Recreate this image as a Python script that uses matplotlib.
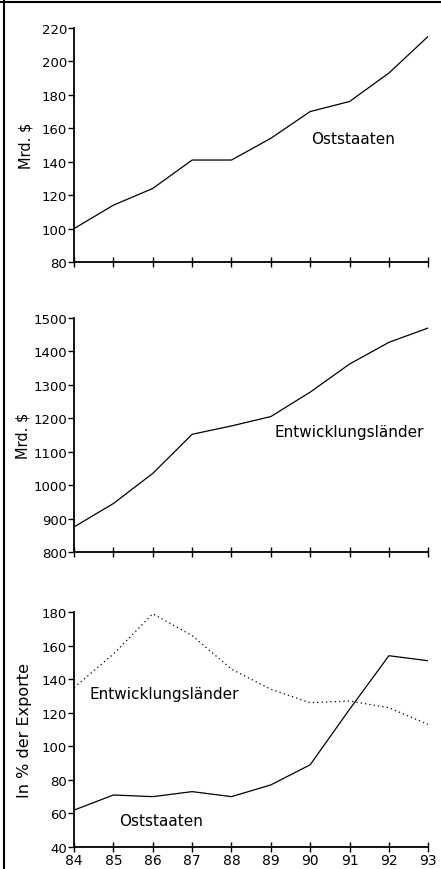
import matplotlib
matplotlib.use('Agg')
import matplotlib.pyplot as plt
from matplotlib.lines import Line2D

#data
years = [84, 85, 86, 87, 88, 89, 90, 91, 92, 93]
year_labels = ['84', '85', '86', '87', '88', '89', '90', '91', '92', '93']
ost_mrd = [100, 114, 124, 141, 141, 154, 170, 176, 193, 215]
entw_mrd = [875, 945, 1035, 1152, 1177, 1205, 1278, 1362, 1427, 1470]
ost_pct = [62, 71, 70, 73, 70, 77, 89, 122, 154, 151]
entw_pct = [135, 155, 179, 166, 146, 134, 126, 127, 123, 113]

plt.rcParams['font.family'] = ['DejaVu Sans']
plt.rcParams['font.size'] = 9.5

fig = plt.figure(figsize=(4.41, 8.70), dpi=100)

#axes boxes in figure fractions
ax1 = fig.add_axes([0.168, 0.6977, 0.803, 0.269])
ax2 = fig.add_axes([0.168, 0.3644, 0.803, 0.269])
ax3 = fig.add_axes([0.168, 0.0253, 0.803, 0.270])

def style(ax):
    for s in ['top', 'right']:
        ax.spines[s].set_visible(False)
    for s in ['left', 'bottom']:
        ax.spines[s].set_linewidth(1.3)
    ax.tick_params(axis='y', direction='out', length=4, width=1.0, pad=1, labelsize=9.5)
    ax.tick_params(axis='x', direction='inout', length=7, width=1.0, pad=1, labelsize=10)
    ax.set_xlim(years[0], years[-1])
    ax.set_xticks(years)

#top panel
style(ax1)
ax1.plot(years, ost_mrd, color='black', lw=0.9)
ax1.set_ylim(80, 220)
ax1.set_yticks(range(80, 221, 20))
ax1.set_xticklabels([])
ax1.set_ylabel('Mrd. $', fontsize=10.5)
ax1.yaxis.set_label_coords(-0.116, 0.5)
ax1.text(91.1, 154, 'Oststaaten', ha='center', va='center', fontsize=11)

#middle panel
style(ax2)
ax2.plot(years, entw_mrd, color='black', lw=0.9)
ax2.set_ylim(800, 1500)
ax2.set_yticks(range(800, 1501, 100))
ax2.set_xticklabels([])
ax2.set_ylabel('Mrd. $', fontsize=10.5)
ax2.yaxis.set_label_coords(-0.122, 0.5)
ax2.text(91.0, 1159, 'Entwicklungsländer', ha='center', va='center', fontsize=11)

#bottom panel
style(ax3)
ax3.plot(years, ost_pct, color='black', lw=0.9)
ax3.plot(years, entw_pct, color='black', lw=0.9, linestyle=(0, (1, 2.5)))
ax3.set_ylim(40, 180)
ax3.set_yticks(range(40, 181, 20))
ax3.set_xticklabels(year_labels)
ax3.set_ylabel('In % der Exporte', fontsize=11.5)
ax3.yaxis.set_label_coords(-0.12, 0.5)
ax3.text(86.3, 131.7, 'Entwicklungsländer', ha='center', va='center', fontsize=11)
ax3.text(86.2, 56, 'Oststaaten', ha='center', va='center', fontsize=11)

#scan frame: top and left border lines
fig.add_artist(Line2D([0.0, 1.0], [0.997, 0.997], color='black', lw=1.5, transform=fig.transFigure))
fig.add_artist(Line2D([0.008, 0.008], [0.0, 1.0], color='black', lw=1.5, transform=fig.transFigure))

plt.savefig('out.png', dpi=100)
plt.close()
